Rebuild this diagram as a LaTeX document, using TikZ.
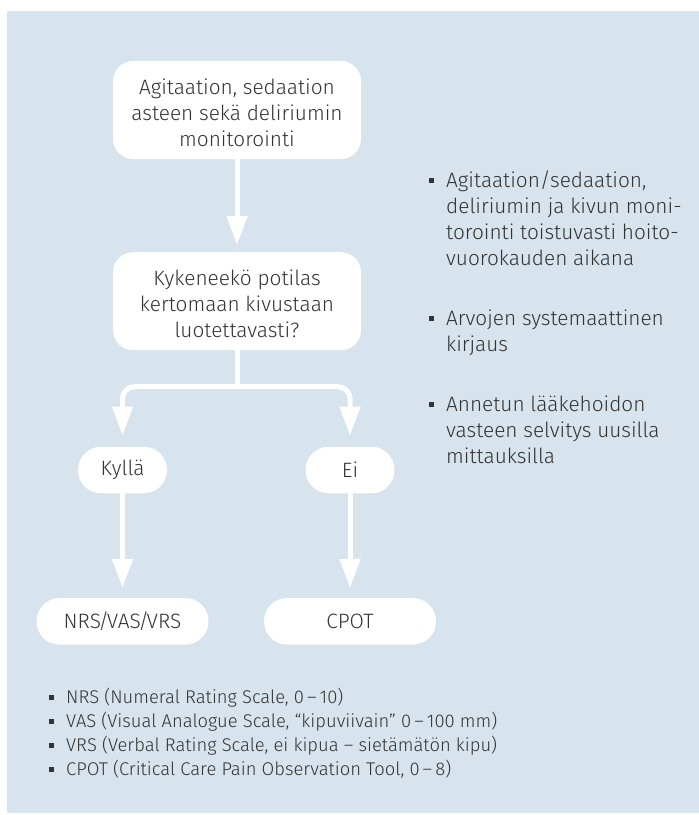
\documentclass[tikz,border=0pt]{standalone}
\usepackage{fontspec}
\IfFontExistsTF{Fira Sans Light}{\setmainfont{Fira Sans Light}}{\setmainfont{Fira Sans}}
\usetikzlibrary{arrows.meta}
\definecolor{bgblue}{HTML}{D7E3ED}
\definecolor{txt}{HTML}{333333}
\newcommand\bxfont{\fontsize{20.8}{26}\selectfont}
\newcommand\smfont{\fontsize{18.4}{24}\selectfont}
\newcommand\topstrut{\rule{0pt}{21pt}}
\newcommand\tslash{\kern-2.5pt/\kern-2.5pt}
\begin{document}
\begin{tikzpicture}[x=1pt,y=-1pt,
  box/.style={fill=white, rounded corners=20pt, align=center, inner sep=0pt,
    minimum width=248pt, minimum height=98pt, font=\bxfont, text=txt},
  pill/.style={fill=white, rounded corners=23pt, inner sep=0pt,
    minimum height=46.5pt, font=\bxfont, text=txt},
  flow/.style={draw=white, line width=5pt, -{Triangle[width=20pt,length=29pt]}},
  stem/.style={draw=white, line width=5pt},
  rline/.style={anchor=base west, inner sep=0pt, font=\bxfont, text=txt},
  bline/.style={anchor=base west, inner sep=0pt, font=\smfont, text=txt},
  sq/.style={fill=txt, minimum size=5pt, inner sep=0pt}
]
\useasboundingbox (0,0) rectangle (699,815);
\fill[bgblue] (7,11) rectangle (699,813);

% flow boxes
\node[box] (b1) at (237,110) {\topstrut Agitaation, sedaation\\asteen sekä deliriumin\\monitorointi};
\node[box] (b2) at (237,301.2) {\topstrut Kykeneekö potilas\\kertomaan kivustaan\\luotettavasti?};
\node[pill, minimum width=89pt] (yes) at (122.5,470) {Kyllä};
\node[pill, minimum width=89pt] (no) at (350,470) {Ei};
\node[pill, minimum width=172pt] (nrs) at (122.5,621.3) {NRS\tslash VAS\tslash VRS};
\node[pill, minimum width=172pt] (cpot) at (350,621.3) {CPOT};

% connectors
\coordinate (split) at (237,386.7);
\draw[flow, shorten >=7pt] (b1) -- (b2);
\draw[stem] (b2.south) -- (split);
\draw[flow, rounded corners=12pt, shorten >=11pt] (split) -| (yes.north);
\draw[flow, rounded corners=12pt, shorten >=11pt] (split) -| (no.north);
\draw[flow, shorten >=10pt] (yes) -- (nrs);
\draw[flow, shorten >=10pt] (no) -- (cpot);

% right-hand list
\node[sq] (q1) at (431,180.5) {};
\node[rline] (r1a) at (446,187.5) {Agitaation/sedaation,};
\node[rline] (r1b) at (446,213.5) {deliriumin ja kivun moni-};
\node[rline] (r1c) at (446,239.5) {torointi toistuvasti hoito-};
\node[rline] (r1d) at (446,265.5) {vuorokauden aikana};
\node[sq] (q2) at (431,318.5) {};
\node[rline] (r2a) at (446,325.5) {Arvojen systemaattinen};
\node[rline] (r2b) at (446,351.5) {kirjaus};
\node[sq] (q3) at (431,404.5) {};
\node[rline] (r3a) at (446,411.5) {Annetun lääkehoidon};
\node[rline] (r3b) at (446,437.5) {vasteen selvitys uusilla};
\node[rline] (r3c) at (446,463.5) {mittauksilla};

% bottom list
\node[sq] (p1) at (51,697) {};
\node[bline] (s1) at (66,703.5) {NRS (Numeral Rating Scale, 0\,–\,10)};
\node[sq] (p2) at (51,721) {};
\node[bline] (s2) at (66,727.5) {VAS (Visual Analogue Scale, “kipuviivain” 0\,–\,100 mm)};
\node[sq] (p3) at (51,745) {};
\node[bline] (s3) at (66,751.5) {VRS (Verbal Rating Scale, ei kipua – sietämätön kipu)};
\node[sq] (p4) at (51,769) {};
\node[bline] (s4) at (66,775.5) {CPOT (Critical Care Pain Observation Tool, 0\,–\,8)};
\end{tikzpicture}
\end{document}
